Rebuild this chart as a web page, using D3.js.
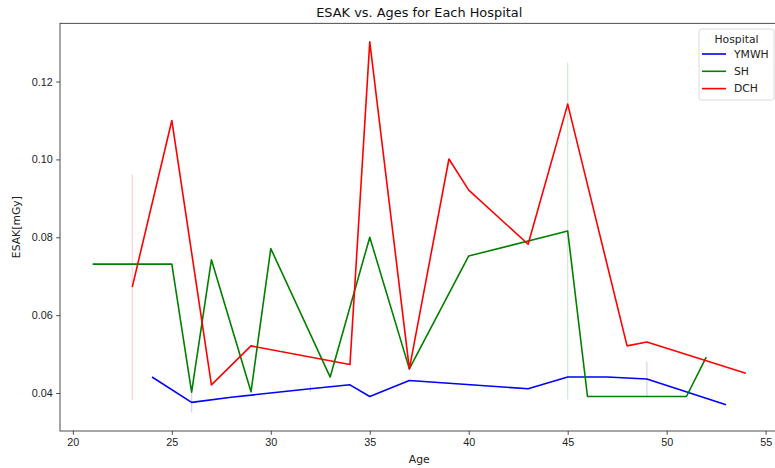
<!DOCTYPE html>
<html>
<head>
<meta charset="utf-8">
<script src="https://cdn.jsdelivr.net/npm/d3@7"></script>
<style>
  body { margin: 0; background: #fff; }
  svg { display: block; font-family: "DejaVu Sans", sans-serif; }
</style>
</head>
<body>
<div id="chart"></div>
<script>
// YMWH
const ymwhAges = [24, 26, 28, 32, 34, 35, 37, 43, 45, 47, 49, 53];
const ymwhEsak = [0.0441, 0.0376, 0.0389, 0.0411, 0.0421, 0.0391, 0.0432, 0.0411, 0.0441, 0.0441, 0.0436, 0.0370];
const ymwhErr  = [0, 0.0026, 0, 0.0009, 0, 0, 0, 0, 0, 0, 0.0045, 0];
// SH
const shAges = [21, 25, 26, 27, 29, 30, 33, 35, 37, 40, 45, 46, 51, 52];
const shEsak = [0.0731, 0.0731, 0.0402, 0.0742, 0.0403, 0.0771, 0.0441, 0.0800, 0.0462, 0.0752, 0.0816, 0.0391, 0.0391, 0.0492];
const shErr  = [0, 0, 0, 0, 0, 0, 0, 0, 0, 0, 0.0433, 0, 0, 0];
// DCH
const dchAges = [23, 25, 27, 29, 34, 35, 37, 39, 40, 43, 45, 48, 49, 54];
const dchEsak = [0.0672, 0.1100, 0.0421, 0.0521, 0.0473, 0.1302, 0.0462, 0.1001, 0.0921, 0.0782, 0.1142, 0.0521, 0.0531, 0.0451];
const dchErr  = [0.0290, 0, 0, 0, 0, 0, 0, 0, 0, 0, 0, 0, 0, 0];

const hospitals = ["YMWH", "SH", "DCH"];
const colors = ["#0000ff", "#008000", "#ff0000"];
const xTicks = [20, 25, 30, 35, 40, 45, 50, 55];
const yTicks = [0.04, 0.06, 0.08, 0.10, 0.12];

const series = [
    {name: "YMWH", ages: ymwhAges, esak: ymwhEsak, err: ymwhErr},
    {name: "SH", ages: shAges, esak: shEsak, err: shErr},
    {name: "DCH", ages: dchAges, esak: dchEsak, err: dchErr}
].map(s => ({
    name: s.name,
    points: s.ages.map((a, i) => ({age: a, esak: s.esak[i], err: s.err[i]}))
}));

const W = 775, H = 468;
const margin = {top: 23.3, right: -3.5, bottom: 37, left: 60};
const width = W - margin.left - margin.right,
      height = H - margin.top - margin.bottom;

const svg = d3.select("#chart").append("svg")
    .attr("width", W)
    .attr("height", H)
    .style("overflow", "hidden");

const g = svg.append("g")
    .attr("transform", "translate(" + margin.left + "," + margin.top + ")");

// matplotlib style 5% margins
const allPts = series.flatMap(s => s.points);
const xMin = d3.min(allPts, d => d.age), xMax = d3.max(allPts, d => d.age);
const yMin = d3.min(allPts, d => d.esak - d.err), yMax = d3.max(allPts, d => d.esak + d.err);
const xPad = (xMax - xMin) * 0.05, yPad = (yMax - yMin) * 0.05;

const x = d3.scaleLinear().domain([xMin - xPad, xMax + xPad]).range([0, width]);
const y = d3.scaleLinear().domain([yMin - yPad, yMax + yPad]).range([height, 0]);

const color = d3.scaleOrdinal().domain(hospitals).range(colors);

const xAxis = g.append("g")
    .attr("transform", "translate(0," + height + ")")
    .call(d3.axisBottom(x).tickValues(xTicks).tickFormat(d3.format("d")).tickSize(3.8).tickPadding(3.5));
const yAxis = g.append("g")
    .call(d3.axisLeft(y).tickValues(yTicks).tickFormat(d3.format(".2f")).tickSize(3.8).tickPadding(3.5));

[xAxis, yAxis].forEach(a => {
    a.selectAll("text").style("font-size", "10.8px").attr("fill", "#222");
    a.selectAll("line").attr("stroke", "#222").attr("stroke-width", 0.8);
    a.select(".domain").attr("stroke", "none");
});

// spines
g.append("rect")
    .attr("width", width).attr("height", height)
    .attr("fill", "none").attr("stroke", "#222").attr("stroke-width", 0.8);

// error bars
series.forEach(s => {
    g.selectAll(null)
        .data(s.points.filter(d => d.err > 0))
        .enter().append("line")
        .attr("x1", d => x(d.age)).attr("x2", d => x(d.age))
        .attr("y1", d => y(d.esak - d.err)).attr("y2", d => y(d.esak + d.err))
        .attr("stroke", color(s.name))
        .attr("stroke-opacity", 0.18)
        .attr("stroke-width", 1.2);
});

const line = d3.line()
    .x(d => x(d.age))
    .y(d => y(d.esak));

series.forEach(s => {
    g.append("path")
        .datum(s.points)
        .attr("fill", "none")
        .attr("stroke", color(s.name))
        .attr("stroke-width", 1.6)
        .attr("stroke-linejoin", "round")
        .attr("d", line);
});

// title and labels
svg.append("text")
    .attr("x", margin.left + width / 2)
    .attr("y", 17)
    .attr("text-anchor", "middle")
    .style("font-size", "12.9px")
    .attr("fill", "#111")
    .text("ESAK vs. Ages for Each Hospital");

svg.append("text")
    .attr("x", margin.left + width / 2)
    .attr("y", 463)
    .attr("text-anchor", "middle")
    .style("font-size", "10.8px")
    .attr("fill", "#222")
    .text("Age");

svg.append("text")
    .attr("transform", "translate(20," + (margin.top + height / 2) + ") rotate(-90)")
    .attr("text-anchor", "middle")
    .style("font-size", "10.8px")
    .attr("fill", "#222")
    .text("ESAK[mGy]");

// legend
const legend = svg.append("g").attr("transform", "translate(699,29)");
legend.append("rect")
    .attr("width", 75).attr("height", 71)
    .attr("rx", 2.5)
    .attr("fill", "#fff").attr("fill-opacity", 0.8)
    .attr("stroke", "#d0d0d0").attr("stroke-width", 0.8);
legend.append("text")
    .attr("x", 37.5).attr("y", 13.5)
    .attr("text-anchor", "middle")
    .style("font-size", "10.8px")
    .attr("fill", "#222")
    .text("Hospital");
const item = legend.selectAll(".item")
    .data(hospitals)
    .enter().append("g")
    .attr("class", "item")
    .attr("transform", (d, i) => "translate(0," + (25 + i * 17.3) + ")");
item.append("line")
    .attr("x1", 3).attr("x2", 27)
    .attr("stroke", d => color(d))
    .attr("stroke-width", 1.6);
item.append("text")
    .attr("x", 35).attr("y", 0)
    .attr("dy", "0.35em")
    .style("font-size", "10.8px")
    .attr("fill", "#222")
    .text(d => d);
</script>
</body>
</html>
